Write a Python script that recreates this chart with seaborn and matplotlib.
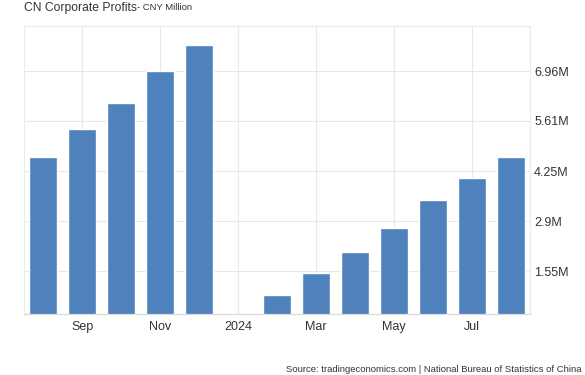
import numpy as np
import pandas as pd
import matplotlib
matplotlib.use("Agg")
import matplotlib.pyplot as plt
import seaborn as sns

# --- Datos ---
months = ["Aug 2023", "Sep 2023", "Oct 2023", "Nov 2023", "Dec 2023",
          "Jan 2024", "Feb 2024", "Mar 2024", "Apr 2024", "May 2024",
          "Jun 2024", "Jul 2024", "Aug 2024"]
profits = [4.63, 5.39, 6.09, 6.96, 7.67, np.nan, 0.90, 1.50, 2.07, 2.71, 3.47, 4.08, 4.64]  # CNY Million (M)

tick_pos = [1, 3, 5, 7, 9, 11]
tick_labels = ["Sep", "Nov", "2024", "Mar", "May", "Jul"]
ytick_vals = [1.55, 2.9, 4.25, 5.61, 6.96]
ytick_labels = ["1.55M", "2.9M", "4.25M", "5.61M", "6.96M"]

df = pd.DataFrame({"month": months, "profit": profits})

sns.set_theme(style="white")
plt.rcParams["font.family"] = ["Liberation Sans", "DejaVu Sans"]

fig = plt.figure(figsize=(5.85, 3.75), dpi=100)
ax = fig.add_axes([24 / 585, 1 - 314 / 375, (530 - 24) / 585, (314 - 26) / 375])

sns.barplot(data=df, x="month", y="profit", order=months, color="#4f81bd",
            saturation=1, width=0.72, ax=ax)

ax.set_xlim(-0.5, 12.5)
ax.set_ylim(0.387, 8.18)

ax.set_xticks(tick_pos)
ax.set_xticklabels(tick_labels)
ax.set_yticks(ytick_vals)
ax.set_yticklabels(ytick_labels)
ax.yaxis.tick_right()
ax.tick_params(axis="both", length=0, labelsize=9, colors="#333333")
ax.tick_params(axis="y", pad=3)
ax.tick_params(axis="x", pad=5)
ax.set_xlabel("")
ax.set_ylabel("")

ax.grid(True, color="#e8e8e8", linewidth=0.8)
ax.set_axisbelow(True)
for side in ["left", "right", "top"]:
    ax.spines[side].set_color("#ececec")
    ax.spines[side].set_linewidth(0.8)
ax.spines["bottom"].set_color("#dcdcdc")
ax.spines["bottom"].set_linewidth(0.9)

fig.text(24 / 585, 1 - 2 / 375, "CN Corporate Profits", fontsize=8.7, color="#333333",
         ha="left", va="top")
fig.text(137 / 585, 1 - 3.5 / 375, "- CNY Million", fontsize=6.8, color="#333333",
         ha="left", va="top")
fig.text(286 / 585, 1 - 374 / 375,
         "Source: tradingeconomics.com | National Bureau of Statistics of China",
         fontsize=6.8, color="#333333", ha="left", va="bottom")

fig.savefig("out.png", dpi=100)
plt.close(fig)
